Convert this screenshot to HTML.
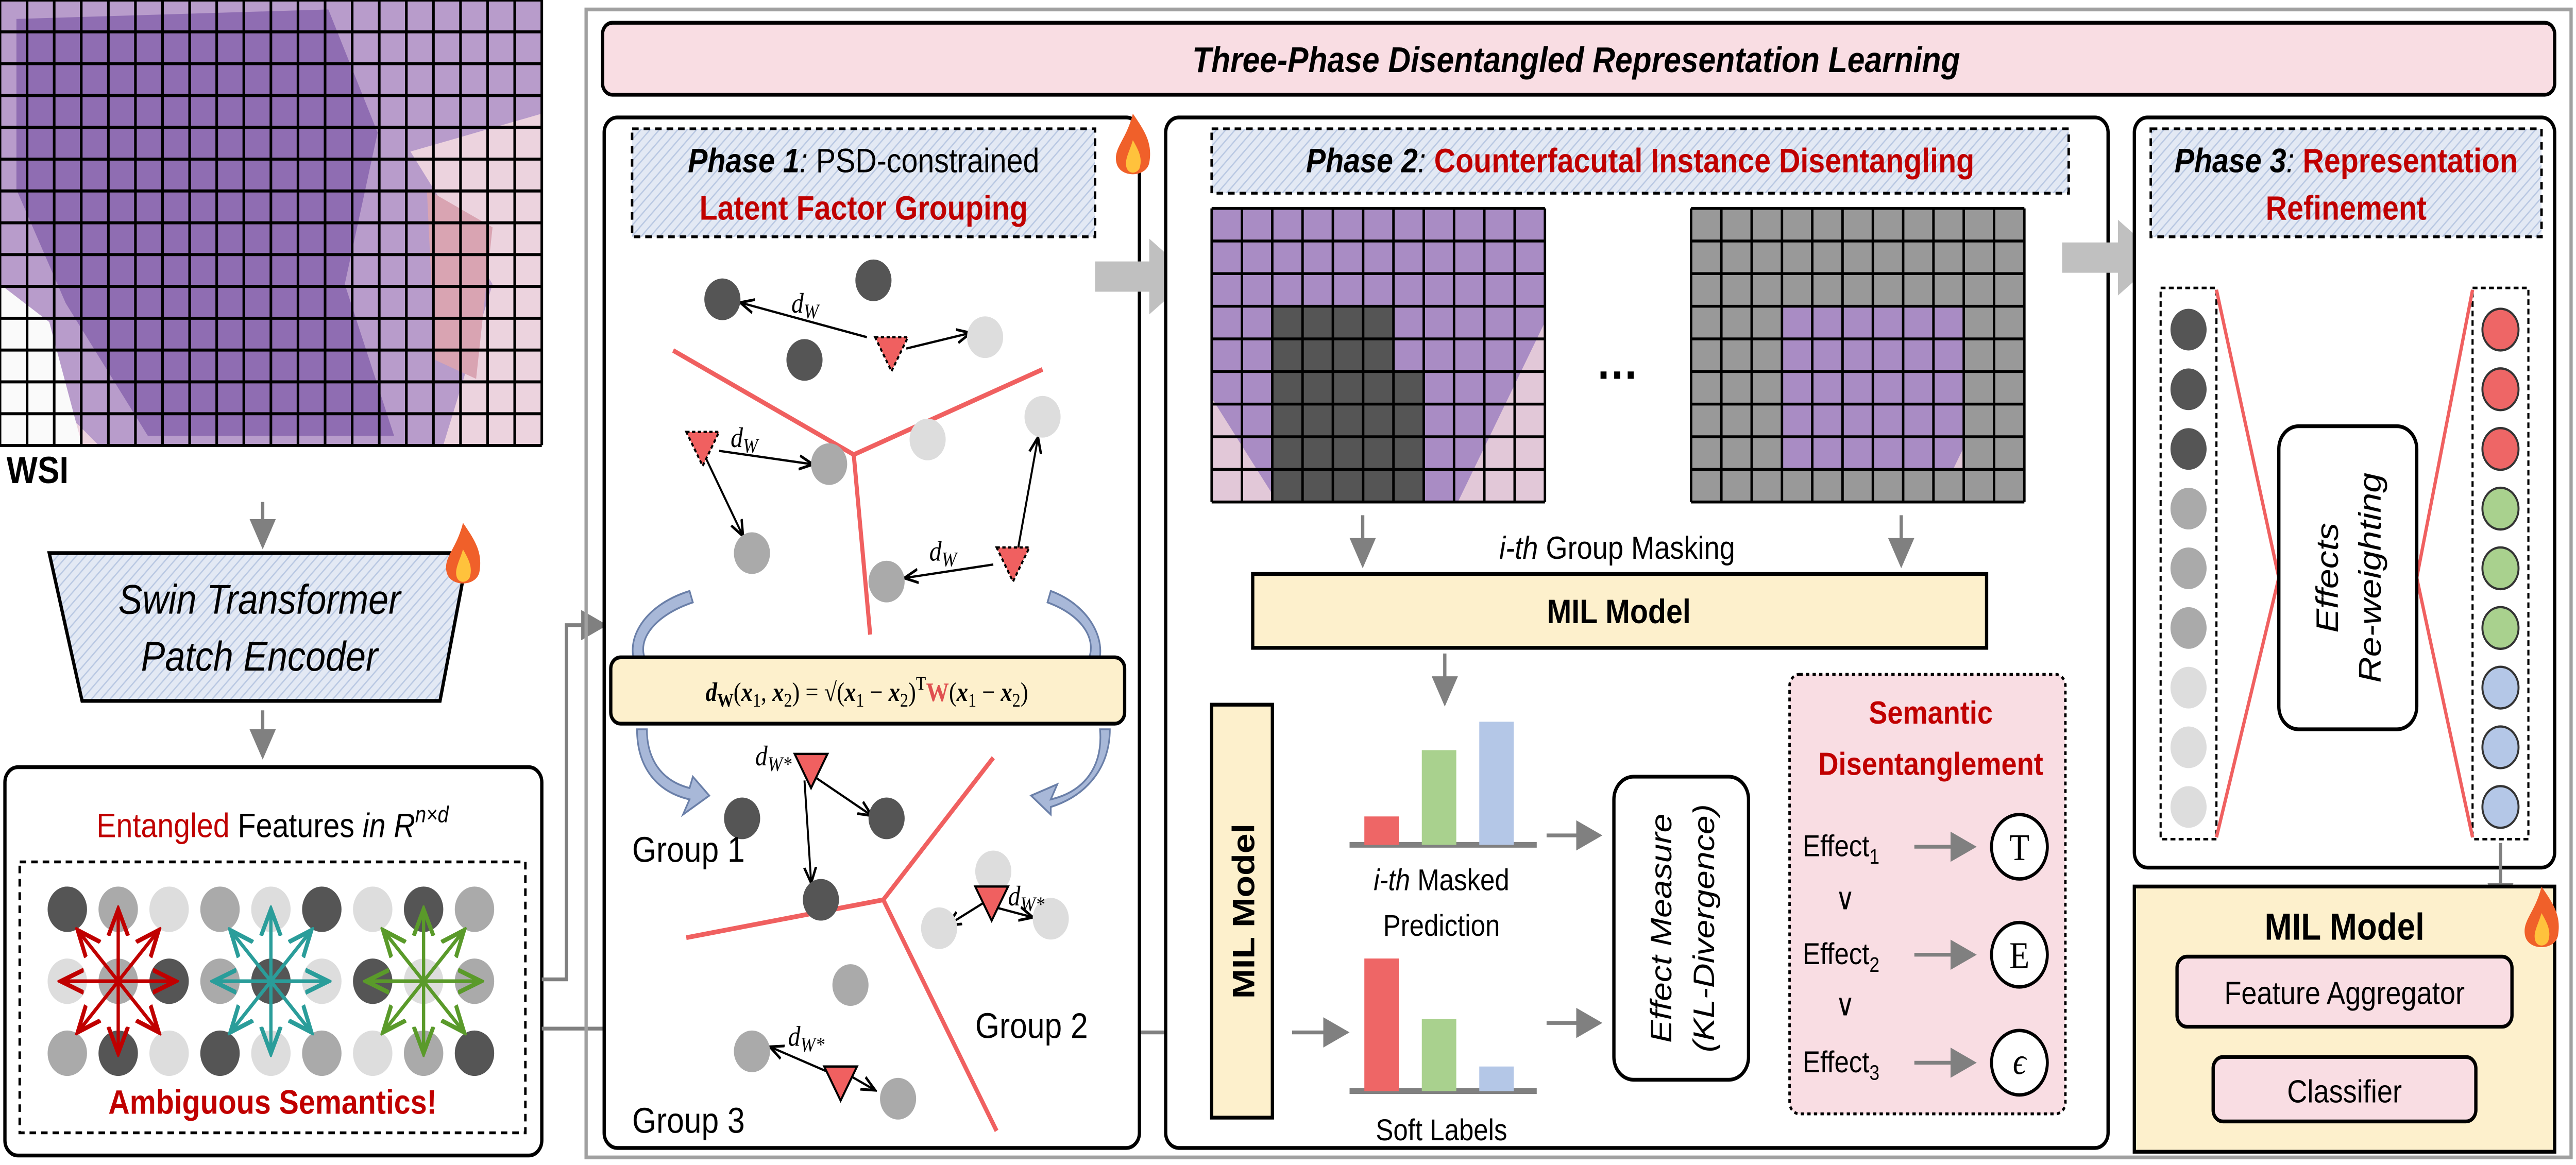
<!DOCTYPE html>
<html><head><meta charset="utf-8"><style>
html,body{margin:0;padding:0;background:#fff;width:100%;height:100%;overflow:hidden;}
svg{display:block;font-family:"Liberation Sans",sans-serif;position:absolute;left:0;top:0;width:100vw;height:100vh;}
</style></head><body>
<svg id="root" viewBox="0 0 1569 615" preserveAspectRatio="none" xmlns="http://www.w3.org/2000/svg">
<defs>
<pattern id="hatch" width="4" height="4" patternUnits="userSpaceOnUse" patternTransform="rotate(45)">
<rect width="4" height="4" fill="#e3e9f4"/><line x1="0" y1="0" x2="0" y2="4" stroke="#b9c8e2" stroke-width="1.5"/></pattern>
<marker id="ah" markerWidth="8" markerHeight="8" refX="6" refY="4" orient="auto"><path d="M0,0 L8,4 L0,8 z" fill="#808080"/></marker>
<marker id="ak" markerWidth="8" markerHeight="8" refX="6" refY="4" orient="auto"><path d="M0,1 L7,4 L0,7" fill="none" stroke="#000" stroke-width="1.2"/></marker>
<marker id="ar" markerWidth="8" markerHeight="8" refX="6" refY="4" orient="auto"><path d="M0,1 L7,4 L0,7" fill="none" stroke="#c00000" stroke-width="1.2"/></marker>
<marker id="at" markerWidth="8" markerHeight="8" refX="6" refY="4" orient="auto"><path d="M0,1 L7,4 L0,7" fill="none" stroke="#2a9d9a" stroke-width="1.2"/></marker>
<marker id="ag" markerWidth="8" markerHeight="8" refX="6" refY="4" orient="auto"><path d="M0,1 L7,4 L0,7" fill="none" stroke="#5a9a2a" stroke-width="1.2"/></marker>
<g id="flame"><path d="M0,-22 C8,-12 12,-6 10,4 C8,12 -8,12 -10,4 C-12,-4 -4,-8 0,-22z" fill="#f0602a"/><path d="M0,-8 C4,-2 6,2 4,7 C2,10 -3,10 -4,6 C-5,2 -2,-2 0,-8z" fill="#ffc23c"/></g>
</defs>

<g>
<rect x="0" y="0" width="330" height="235" fill="#ecd3de"/>
<path d="M0,0 L330,0 L330,60 L250,80 L300,150 L270,235 L60,235 L20,200 L0,170z" fill="#b89ccb"/>
<path d="M10,10 L200,5 L230,70 L210,150 L240,230 L90,230 L40,160 L10,100z" fill="#8f6db2"/>
<path d="M260,100 L300,120 L290,200 L265,190z" fill="#d9a4b2"/>
<path d="M0,150 L30,170 L50,235 L0,235z" fill="#fafafa"/>
<g id="wsigrid" stroke="#000" stroke-width="1.6"></g>
</g>
<text x="4" y="255" font-size="20" font-weight="bold">WSI</text>

<line x1="160" y1="265" x2="160" y2="286" stroke="#808080" stroke-width="2" marker-end="url(#ah)"/>
<g>
<path d="M30,292 L285,292 L268,370 L50,370z" fill="url(#hatch)" stroke="#000" stroke-width="2"/>
<text x="158" y="324" font-size="22" font-style="italic" text-anchor="middle">Swin Transformer</text>
<text x="158" y="354" font-size="22" font-style="italic" text-anchor="middle">Patch Encoder</text>
</g>
<use href="#flame" x="282" y="298"/>
<line x1="160" y1="375" x2="160" y2="397" stroke="#808080" stroke-width="2" marker-end="url(#ah)"/>

<g>
<rect x="3" y="405" width="327" height="205" rx="8" fill="#fff" stroke="#000" stroke-width="2"/>
<text x="166" y="442" font-size="18" text-anchor="middle"><tspan fill="#c00000">Entangled</tspan> Features <tspan font-style="italic">in R</tspan><tspan font-style="italic" font-size="12" dy="-8">n×d</tspan></text>
<rect x="12" y="455" width="308" height="143" fill="none" stroke="#000" stroke-width="1.5" stroke-dasharray="4,3"/>
<g id="entcircles"></g>
<text x="166" y="588" font-size="18" font-weight="bold" fill="#c00000" text-anchor="middle">Ambiguous Semantics!</text>
</g>

<path d="M330,517 L345,517 L345,330 L366,330" fill="none" stroke="#808080" stroke-width="2" marker-end="url(#ah)"/>
<path d="M330,543 L368,543" fill="none" stroke="#808080" stroke-width="2"/>
<path d="M694,545 L735,545" fill="none" stroke="#808080" stroke-width="2" marker-end="url(#ah)"/>

<rect x="357" y="5" width="1209" height="606" fill="none" stroke="#a0a0a0" stroke-width="2"/>
<rect x="367" y="12" width="1189" height="38" rx="6" fill="#f9dde3" stroke="#000" stroke-width="2"/>
<text x="960" y="38" font-size="19" font-weight="bold" font-style="italic" text-anchor="middle">Three-Phase Disentangled Representation Learning</text>

<g>
<rect x="368" y="62" width="326" height="544" rx="8" fill="#fff" stroke="#000" stroke-width="2"/>
<rect x="385" y="68" width="282" height="57" fill="url(#hatch)" stroke="#000" stroke-width="1.5" stroke-dasharray="4,3"/>
<text x="526" y="91" font-size="18" text-anchor="middle"><tspan font-weight="bold" font-style="italic">Phase 1</tspan><tspan font-style="italic">:</tspan> PSD-constrained</text>
<text x="526" y="116" font-size="18" font-weight="bold" fill="#c00000" text-anchor="middle">Latent Factor Grouping</text>
<g stroke="#f06060" stroke-width="2.5">
<line x1="410" y1="185" x2="520" y2="240"/><line x1="520" y1="240" x2="635" y2="195"/><line x1="520" y1="240" x2="530" y2="335"/>
<line x1="418" y1="495" x2="538" y2="475"/><line x1="538" y1="475" x2="605" y2="400"/><line x1="538" y1="475" x2="607" y2="597"/>
</g>
<g stroke="#000" stroke-width="1.2" marker-end="url(#ak)">
<line x1="528" y1="178" x2="452" y2="160"/><line x1="552" y1="184" x2="590" y2="176"/>
<line x1="438" y1="238" x2="494" y2="245"/><line x1="430" y1="242" x2="452" y2="282"/>
<line x1="605" y1="298" x2="552" y2="305"/><line x1="620" y1="290" x2="632" y2="232"/>
<line x1="496" y1="410" x2="530" y2="430"/><line x1="490" y1="412" x2="494" y2="465"/>
<line x1="602" y1="478" x2="628" y2="484"/><line x1="602" y1="475" x2="578" y2="488"/>
<line x1="512" y1="565" x2="532" y2="575"/><line x1="510" y1="568" x2="470" y2="553"/>
</g>
<g id="p1circles"></g>
<g font-family="Liberation Serif" font-style="italic" font-size="15">
<text x="482" y="165">d<tspan font-size="11" dy="3">W</tspan></text>
<text x="445" y="236">d<tspan font-size="11" dy="3">W</tspan></text>
<text x="566" y="296">d<tspan font-size="11" dy="3">W</tspan></text>
<text x="460" y="404">d<tspan font-size="11" dy="3">W*</tspan></text>
<text x="614" y="478">d<tspan font-size="11" dy="3">W*</tspan></text>
<text x="480" y="552">d<tspan font-size="11" dy="3">W*</tspan></text>
</g>
<g fill="#a8b8d8" stroke="#6a7fa8" stroke-width="1">
<path d="M420,312 C390,320 380,340 388,352 L393,348 C388,338 398,325 422,318z"/>
<path d="M388,385 C388,405 400,418 420,422 L416,430 L432,420 L422,410 L420,416 C402,412 394,400 394,385z"/>
<path d="M640,312 C665,320 675,340 668,352 L663,348 C668,338 660,325 638,318z"/>
<path d="M670,385 C672,405 660,418 640,422 L644,414 L628,420 L640,430 L640,426 C662,420 676,405 676,385z"/>
</g>
<rect x="372" y="347" width="313" height="35" rx="6" fill="#fdf0cc" stroke="#000" stroke-width="2"/>
<text x="528" y="370" font-family="Liberation Serif" font-size="14" text-anchor="middle"><tspan font-weight="bold" font-style="italic">d</tspan><tspan font-size="10" dy="3" font-weight="bold">W</tspan><tspan dy="-3">(</tspan><tspan font-style="italic" font-weight="bold">x</tspan><tspan font-size="10" dy="3">1</tspan><tspan dy="-3">, </tspan><tspan font-style="italic" font-weight="bold">x</tspan><tspan font-size="10" dy="3">2</tspan><tspan dy="-3">) = √(</tspan><tspan font-style="italic" font-weight="bold">x</tspan><tspan font-size="10" dy="3">1</tspan><tspan dy="-3"> − </tspan><tspan font-style="italic" font-weight="bold">x</tspan><tspan font-size="10" dy="3">2</tspan><tspan dy="-3">)</tspan><tspan font-size="10" dy="-6">T</tspan><tspan dy="6" fill="#e05050" font-weight="bold">W</tspan><tspan>(</tspan><tspan font-style="italic" font-weight="bold">x</tspan><tspan font-size="10" dy="3">1</tspan><tspan dy="-3"> − </tspan><tspan font-style="italic" font-weight="bold">x</tspan><tspan font-size="10" dy="3">2</tspan><tspan dy="-3">)</tspan></text>
<text x="385" y="455" font-size="19">Group 1</text>
<text x="594" y="548" font-size="19">Group 2</text>
<text x="385" y="598" font-size="19">Group 3</text>
</g>
<use href="#flame" x="690" y="82"/>
<path d="M667,138 L700,138 L700,126 L726,146 L700,166 L700,154 L667,154z" fill="#c0c0c0"/>

<g>
<rect x="710" y="62" width="574" height="544" rx="8" fill="#fff" stroke="#000" stroke-width="2"/>
<rect x="738" y="68" width="522" height="34" fill="url(#hatch)" stroke="#000" stroke-width="1.5" stroke-dasharray="4,3"/>
<text x="999" y="91" font-size="18" text-anchor="middle"><tspan font-weight="bold" font-style="italic">Phase 2</tspan><tspan font-style="italic">: </tspan><tspan font-weight="bold" fill="#c00000">Counterfacutal Instance Disentangling</tspan></text>
<g id="grid1"></g><g id="grid2"></g>
<text x="985" y="200" font-size="26" font-weight="bold" text-anchor="middle">…</text>
<line x1="830" y1="272" x2="830" y2="296" stroke="#808080" stroke-width="2" marker-end="url(#ah)"/>
<line x1="1158" y1="272" x2="1158" y2="296" stroke="#808080" stroke-width="2" marker-end="url(#ah)"/>
<text x="985" y="295" font-size="17" text-anchor="middle"><tspan font-style="italic">i-th</tspan> Group Masking</text>
<rect x="763" y="303" width="447" height="39" fill="#fdf0cc" stroke="#000" stroke-width="2"/>
<text x="986" y="329" font-size="18" font-weight="bold" text-anchor="middle">MIL Model</text>
<line x1="880" y1="345" x2="880" y2="369" stroke="#808080" stroke-width="2" marker-end="url(#ah)"/>
<rect x="738" y="372" width="37" height="218" fill="#fdf0cc" stroke="#000" stroke-width="2"/>
<text transform="translate(764,481) rotate(-90)" font-size="19" font-weight="bold" text-anchor="middle">MIL Model</text>
<g id="bars"></g>
<text x="878" y="470" font-size="16" text-anchor="middle"><tspan font-style="italic">i-th</tspan> Masked</text>
<text x="878" y="494" font-size="16" text-anchor="middle">Prediction</text>
<text x="878" y="602" font-size="16" text-anchor="middle">Soft Labels</text>
<g stroke="#808080" stroke-width="2" marker-end="url(#ah)">
<line x1="787" y1="545" x2="818" y2="545"/><line x1="942" y1="441" x2="972" y2="441"/><line x1="942" y1="540" x2="972" y2="540"/>
</g>
<rect x="983" y="410" width="82" height="160" rx="12" fill="#fff" stroke="#000" stroke-width="2"/>
<text transform="translate(1018,490) rotate(-90)" font-size="18" font-style="italic" text-anchor="middle">Effect Measure</text>
<text transform="translate(1044,490) rotate(-90)" font-size="18" font-style="italic" text-anchor="middle">(KL-Divergence)</text>
<rect x="1090" y="356" width="168" height="232" rx="6" fill="#f9dde3" stroke="#000" stroke-width="1.5" stroke-dasharray="2,2"/>
<text x="1176" y="382" font-size="17" font-weight="bold" fill="#c00000" text-anchor="middle">Semantic</text>
<text x="1176" y="409" font-size="17" font-weight="bold" fill="#c00000" text-anchor="middle">Disentanglement</text>
<g font-size="16">
<text x="1098" y="452">Effect<tspan font-size="11" dy="4">1</tspan></text>
<text x="1118" y="480">∨</text>
<text x="1098" y="509">Effect<tspan font-size="11" dy="4">2</tspan></text>
<text x="1118" y="536">∨</text>
<text x="1098" y="566">Effect<tspan font-size="11" dy="4">3</tspan></text>
</g>
<g stroke="#808080" stroke-width="2" marker-end="url(#ah)">
<line x1="1166" y1="447" x2="1200" y2="447"/><line x1="1166" y1="504" x2="1200" y2="504"/><line x1="1166" y1="561" x2="1200" y2="561"/>
</g>
<g fill="#fff" stroke="#000" stroke-width="1.8">
<circle cx="1230" cy="447" r="17"/><circle cx="1230" cy="504" r="17"/><circle cx="1230" cy="561" r="17"/>
</g>
<g font-family="Liberation Serif" font-size="20" text-anchor="middle">
<text x="1230" y="454">T</text><text x="1230" y="511">E</text><text x="1230" y="567" font-style="italic">ϵ</text>
</g>
</g>
<path d="M1256,128 L1290,128 L1290,116 L1316,136 L1290,156 L1290,144 L1256,144z" fill="#c0c0c0"/>

<g>
<rect x="1300" y="62" width="256" height="396" rx="8" fill="#fff" stroke="#000" stroke-width="2"/>
<rect x="1310" y="68" width="238" height="57" fill="url(#hatch)" stroke="#000" stroke-width="1.5" stroke-dasharray="4,3"/>
<text x="1429" y="91" font-size="18" text-anchor="middle"><tspan font-weight="bold" font-style="italic">Phase 3</tspan><tspan font-style="italic">: </tspan><tspan font-weight="bold" fill="#c00000">Representation</tspan></text>
<text x="1429" y="116" font-size="18" font-weight="bold" fill="#c00000" text-anchor="middle">Refinement</text>
<rect x="1316" y="152" width="34" height="291" fill="none" stroke="#000" stroke-width="1.3" stroke-dasharray="3,2"/>
<rect x="1506" y="152" width="34" height="291" fill="none" stroke="#000" stroke-width="1.3" stroke-dasharray="3,2"/>
<g stroke="#f06060" stroke-width="2">
<line x1="1350" y1="153" x2="1388" y2="305"/><line x1="1350" y1="442" x2="1388" y2="305"/>
<line x1="1506" y1="153" x2="1472" y2="305"/><line x1="1506" y1="442" x2="1472" y2="305"/>
</g>
<g id="p3circles"></g>
<rect x="1388" y="225" width="84" height="160" rx="12" fill="#fff" stroke="#000" stroke-width="2"/>
<text transform="translate(1424,305) rotate(-90)" font-size="19" font-style="italic" text-anchor="middle">Effects</text>
<text transform="translate(1450,305) rotate(-90)" font-size="19" font-style="italic" text-anchor="middle">Re-weighting</text>
</g>
<line x1="1523" y1="445" x2="1523" y2="478" stroke="#808080" stroke-width="2" marker-end="url(#ah)"/>
<g>
<rect x="1300" y="468" width="256" height="140" fill="#fdf0cc" stroke="#000" stroke-width="2"/>
<text x="1428" y="496" font-size="20" font-weight="bold" text-anchor="middle">MIL Model</text>
<rect x="1326" y="505" width="204" height="37" rx="6" fill="#f9dde3" stroke="#000" stroke-width="2"/>
<text x="1428" y="530" font-size="17" text-anchor="middle">Feature Aggregator</text>
<rect x="1348" y="558" width="160" height="34" rx="6" fill="#f9dde3" stroke="#000" stroke-width="2"/>
<text x="1428" y="582" font-size="17" text-anchor="middle">Classifier</text>
</g>
<use href="#flame" x="1548" y="490"/>
</svg>
<script>
const barCats=['red','green','blue'];
const predValues=[15,50,65];
const softValues=[70,38,13];
const NS='http://www.w3.org/2000/svg';
function mk(p,tag,a){const e=document.createElementNS(NS,tag);for(const k in a)e.setAttribute(k,a[k]);p.appendChild(e);return e;}
const wg=document.getElementById('wsigrid');
for(let i=0;i<=20;i++)mk(wg,'line',{x1:i*16.5,y1:0,x2:i*16.5,y2:235});
for(let j=0;j<=14;j++)mk(wg,'line',{x1:0,y1:j*16.8,x2:330,y2:j*16.8});
function grid(id,x0,y0,mode){
 const p=document.getElementById(id);const nc=11,nr=9,w=203/nc,h=155/nr;
 mk(p,'rect',{x:x0,y:y0,width:203,height:155,fill:'#e2c8d8'});
 mk(p,'path',{d:'M'+x0+','+y0+' L'+(x0+203)+','+y0+' L'+(x0+203)+','+(y0+60)+' L'+(x0+150)+','+(y0+155)+' L'+(x0+40)+','+(y0+155)+' L'+x0+','+(y0+100)+'z',fill:'#a98cc4'});
 for(let r=0;r<nr;r++)for(let c=0;c<nc;c++){
  const inBlob=(c>=2&&c<=6&&r>=3&&r<=8)&&!(c==6&&r<5);
  let fill=null;
  if(mode==1&&inBlob)fill='#555';
  if(mode==2&&!(c>=3&&c<=8&&r>=3&&r<=7))fill='#999';
  if(fill)mk(p,'rect',{x:x0+c*w,y:y0+r*h,width:w,height:h,fill:fill});
 }
 for(let c=0;c<=nc;c++)mk(p,'line',{x1:x0+c*w,y1:y0,x2:x0+c*w,y2:y0+155,stroke:'#000','stroke-width':1.5});
 for(let r=0;r<=nr;r++)mk(p,'line',{x1:x0,y1:y0+r*h,x2:x0+203,y2:y0+r*h,stroke:'#000','stroke-width':1.5});
}
grid('grid1',738,110,1);grid('grid2',1030,110,2);
const ec=document.getElementById('entcircles');
const pat=[['#555','#aaa','#ddd'],['#ddd','#aaa','#555'],['#aaa','#555','#ddd']];
for(let grp=0;grp<3;grp++){const cx=72+grp*93,cy=518;
 for(let r=0;r<3;r++)for(let c=0;c<3;c++){
  mk(ec,'circle',{cx:cx+(c-1)*31,cy:480+r*38,r:12,fill:pat[r][(c+grp)%3]});}
 const mc=['ar','at','ag'][grp],sc=['#c00000','#2a9d9a','#5a9a2a'][grp];
 for(let k=0;k<8;k++){const a=k*Math.PI/4;mk(ec,'line',{x1:cx,y1:cy,x2:cx+Math.cos(a)*33,y2:cy+Math.sin(a)*36,stroke:sc,'stroke-width':2,'marker-end':'url(#'+mc+')'});}
}
const pc=document.getElementById('p1circles');
const circ=[[440,158,'#555'],[532,148,'#555'],[490,190,'#555'],[600,178,'#ddd'],[505,245,'#aaa'],[635,220,'#ddd'],[565,232,'#ddd'],[458,292,'#aaa'],[540,307,'#aaa'],
[452,432,'#555'],[540,432,'#555'],[500,475,'#555'],[605,460,'#ddd'],[640,485,'#ddd'],[572,490,'#ddd'],[518,520,'#aaa'],[458,555,'#aaa'],[547,580,'#aaa']];
circ.forEach(function(c){mk(pc,'circle',{cx:c[0],cy:c[1],r:11,fill:c[2]});});
const tri=[[543,185,1],[428,235,1],[617,296,1],[494,405,0],[604,475,0],[512,570,0]];
tri.forEach(function(t){mk(pc,'path',{d:'M'+(t[0]-10)+','+(t[1]-7)+' L'+(t[0]+10)+','+(t[1]-7)+' L'+t[0]+','+(t[1]+11)+'z',fill:'#f06060',stroke:'#000','stroke-width':1.2,'stroke-dasharray':t[2]?'2,1.5':'none'});});
const bc=['#ee6666','#a9d18e','#b4c7e7'];
const bars=document.getElementById('bars');
function drawBars(vals,base){
 mk(bars,'line',{x1:822,y1:base,x2:936,y2:base,stroke:'#808080','stroke-width':3});
 vals.forEach(function(v,i){const b=mk(bars,'rect',{x:831+i*35,y:base-v,width:21,height:v,fill:bc[i]});
 
 });
}
drawBars(predValues,446);drawBars(softValues,576);
const p3=document.getElementById('p3circles');
const lc=['#555','#555','#555','#aaa','#aaa','#aaa','#ddd','#ddd','#ddd'];
const rc=['#ee6666','#ee6666','#ee6666','#a9d18e','#a9d18e','#a9d18e','#b4c7e7','#b4c7e7','#b4c7e7'];
for(let i=0;i<9;i++){mk(p3,'circle',{cx:1333,cy:174+i*31.5,r:11,fill:lc[i]});mk(p3,'circle',{cx:1523,cy:174+i*31.5,r:11,fill:rc[i],stroke:'#333','stroke-width':1.2});}
</script>
</body></html>
